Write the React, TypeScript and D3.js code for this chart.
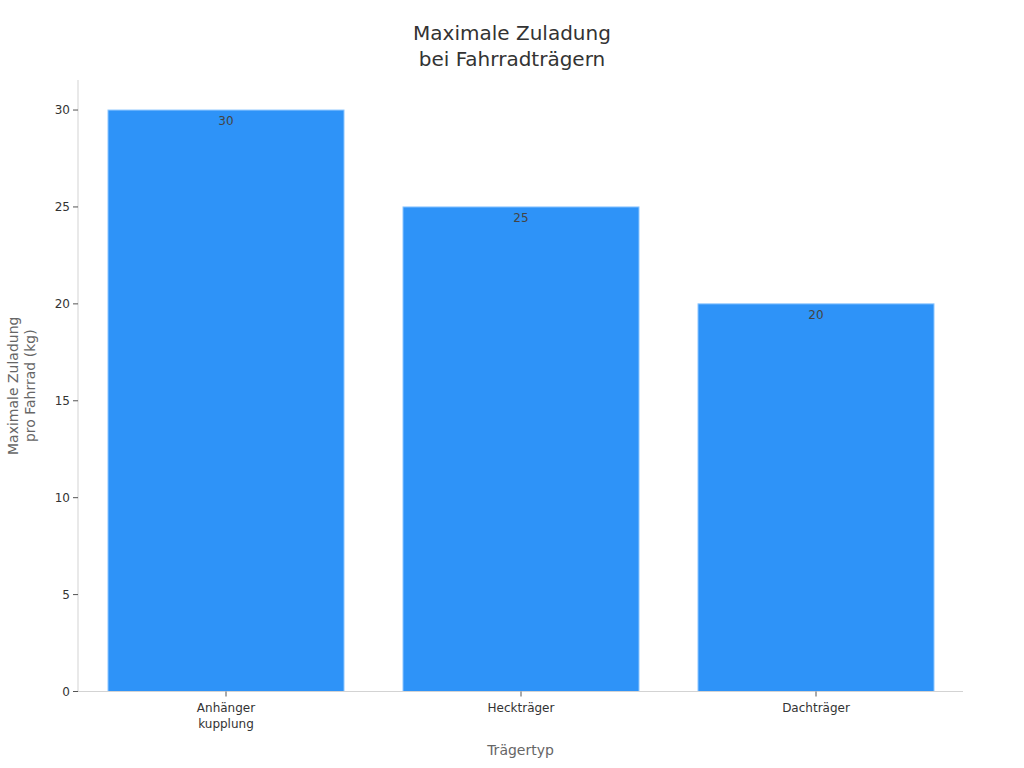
import React from "react";
import * as d3 from "d3";

const categories = ["Anhänger\nkupplung", "Heckträger", "Dachträger"];
const values = [30, 25, 20];
const yTicks = [0, 5, 10, 15, 20, 25, 30];
const titleLines = ["Maximale Zuladung", "bei Fahrradträgern"];
const yTitleLines = ["Maximale Zuladung", "pro Fahrrad (kg)"];
const xTitle = "Trägertyp";

const W = 1024;
const H = 768;
const margin = { top: 80, right: 61, bottom: 76.5, left: 78 };
const font = "DejaVu Sans, sans-serif";

const App: React.FC = () => {
    const x = d3
        .scaleBand<string>()
        .domain(categories)
        .range([margin.left + 0.5, W - margin.right + 0.5])
        .paddingInner(0.2)
        .paddingOuter(0.1);

    const y = d3
        .scaleLinear()
        .domain([0, 31.55])
        .range([H - margin.bottom, margin.top]);

    const bottom = y(0);

    return (
        <svg
            width={W}
            height={H}
            style={{ position: "absolute", left: 0, top: 0, background: "#fff" }}
            fontFamily={font}
        >
            {/* title */}
            <text x={512} y={40} textAnchor="middle" fontSize={20} fill="#333">
                {titleLines.map((t, i) => (
                    <tspan key={i} x={512} dy={i === 0 ? 0 : 26}>
                        {t}
                    </tspan>
                ))}
            </text>

            {/* bars */}
            {categories.map((c, i) => (
                <g key={c}>
                    <rect
                        x={x(c)!}
                        y={y(values[i])}
                        width={x.bandwidth()}
                        height={bottom - y(values[i])}
                        fill="#2e93f8"
                        stroke="#8cc6ff"
                        strokeWidth={1}
                    />
                    <text
                        x={x(c)! + x.bandwidth() / 2}
                        y={y(values[i]) + 15}
                        textAnchor="middle"
                        fontSize={12}
                        fill="#444"
                    >
                        {values[i]}
                    </text>
                </g>
            ))}

            {/* y axis */}
            <line
                x1={margin.left}
                x2={margin.left}
                y1={margin.top}
                y2={bottom}
                stroke="#d3d3d3"
            />
            {yTicks.map((t) => (
                <g key={t}>
                    <line
                        x1={margin.left - 5}
                        x2={margin.left}
                        y1={y(t)}
                        y2={y(t)}
                        stroke="#555"
                    />
                    <text
                        x={margin.left - 8}
                        y={y(t)}
                        dy="0.35em"
                        textAnchor="end"
                        fontSize={12}
                        fill="#333"
                    >
                        {t}
                    </text>
                </g>
            ))}
            <text
                transform={`translate(18, ${(margin.top + bottom) / 2}) rotate(-90)`}
                textAnchor="middle"
                fontSize={14}
                fill="#666"
            >
                {yTitleLines.map((t, i) => (
                    <tspan key={i} x={0} dy={i === 0 ? 0 : 17}>
                        {t}
                    </tspan>
                ))}
            </text>

            {/* x axis */}
            <line
                x1={margin.left}
                x2={W - margin.right}
                y1={bottom}
                y2={bottom}
                stroke="#d3d3d3"
            />
            {categories.map((c) => {
                const cx = x(c)! + x.bandwidth() / 2;
                return (
                    <g key={c}>
                        <line x1={cx} x2={cx} y1={bottom} y2={bottom + 5} stroke="#555" />
                        <text x={cx} y={bottom + 20} textAnchor="middle" fontSize={12} fill="#333">
                            {c.split("\n").map((l, i) => (
                                <tspan key={i} x={cx} dy={i === 0 ? 0 : 16}>
                                    {l}
                                </tspan>
                            ))}
                        </text>
                    </g>
                );
            })}
            <text x={(margin.left + W - margin.right) / 2} y={755} textAnchor="middle" fontSize={14} fill="#666">
                {xTitle}
            </text>
        </svg>
    );
};

export default App;
